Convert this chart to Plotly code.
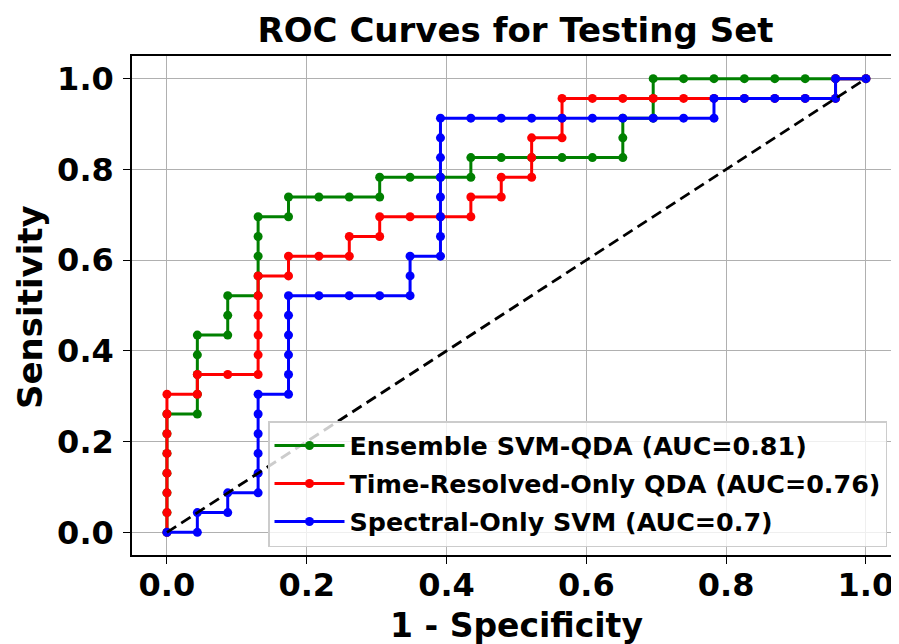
import plotly.graph_objects as go

N_NEG = 23
N_POS = 23

# Ensemble SVM-QDA: false-positive counts and true-positive counts at each threshold
ens_fp = [0,0,0,0,0,0,0,1,1,1,1,1,2,2,2,3,3,3,3,3,4,4,5,6,7,7,8,9,10,10,11,12,13,14,15,15,15,16,16,16,17,18,19,20,21,22,23]
ens_tp = [0,1,2,3,4,5,6,6,7,8,9,10,10,11,12,12,13,14,15,16,16,17,17,17,17,18,18,18,18,19,19,19,19,19,19,20,21,21,22,23,23,23,23,23,23,23,23]

# Time-Resolved-Only QDA
tr_fp = [0,0,0,0,0,0,0,0,1,1,2,3,3,3,3,3,3,4,4,5,6,6,7,7,8,9,10,10,11,11,12,12,12,13,13,13,14,15,16,17,18,19,20,21,22,22,23]
tr_tp = [0,1,2,3,4,5,6,7,7,8,8,8,9,10,11,12,13,13,14,14,14,15,15,16,16,16,16,17,17,18,18,19,20,20,21,22,22,22,22,22,22,22,22,22,22,23,23]

# Spectral-Only SVM
sp_fp = [0,1,1,2,2,3,3,3,3,3,3,4,4,4,4,4,4,5,6,7,8,8,8,9,9,9,9,9,9,9,9,10,11,12,13,14,15,16,17,18,18,19,20,21,22,22,23]
sp_tp = [0,0,1,1,2,2,3,4,5,6,7,7,8,9,10,11,12,12,12,12,12,13,14,14,15,16,17,18,19,20,21,21,21,21,21,21,21,21,21,21,22,22,22,22,22,23,23]

series = [
    ("Ensemble SVM-QDA (AUC=0.81)", ens_fp, ens_tp, "#008000"),
    ("Time-Resolved-Only QDA (AUC=0.76)", tr_fp, tr_tp, "#ff0000"),
    ("Spectral-Only SVM (AUC=0.7)", sp_fp, sp_tp, "#0000ff"),
]

diag = [0, 1]
ticks = [0.0, 0.2, 0.4, 0.6, 0.8, 1.0]
tick_text = ["0.0", "0.2", "0.4", "0.6", "0.8", "1.0"]
title_text = "ROC Curves for Testing Set"
x_title = "1 - Specificity"
y_title = "Sensitivity"

FONT = "DejaVu Sans"
W, H = 891, 636
ML, MR, MT, MB = 124, 0, 48, 89
PW, PH = W - ML - MR, H - MT - MB

fig = go.Figure()
for i, (name, fp, tp, col) in enumerate(series):
    fig.add_trace(go.Scatter(
        x=[v / N_NEG for v in fp], y=[v / N_POS for v in tp],
        mode="lines+markers", name=name, legendgroup=f"g{i}",
        line=dict(color=col, width=3),
        marker=dict(color=col, size=9),
    ))
fig.add_trace(go.Scatter(
    x=diag, y=diag, mode="lines", showlegend=False,
    line=dict(color="black", width=2.8, dash="11px,6px"),
))

axis_common = dict(
    tickvals=ticks, ticktext=tick_text,
    tickfont=dict(family=FONT, size=32, color="black", weight="bold"),
    showgrid=True, gridcolor="#b0b0b0", gridwidth=1.2,
    zeroline=False, showline=True, linecolor="black", linewidth=1.6,
    ticks="outside", ticklen=7, tickwidth=1.4, tickcolor="black",
    automargin=False,
)

fig.update_layout(
    width=W, height=H,
    margin=dict(l=ML, r=MR, t=MT, b=MB),
    paper_bgcolor="white", plot_bgcolor="white",
    title=dict(text=f"<b>{title_text}</b>", x=0.5, xref="paper",
               y=1 - 22 / H, yref="container", yanchor="middle",
               font=dict(family=FONT, size=34, color="black")),
    xaxis=dict(range=[-0.05, 1.0473], mirror=True, ticklabelstandoff=-6, **axis_common),
    yaxis=dict(range=[-0.05, 1.05], ticklabelstandoff=3, **axis_common),
    legend=dict(x=(268 - 8 - ML) / PW, y=(MT + PH - (421 - 8)) / PH, xanchor="left", yanchor="top",
                bgcolor="rgba(255,255,255,0.8)", bordercolor="#cccccc", borderwidth=1.5,
                font=dict(family=FONT, size=25.4, color="black", weight="bold"),
                itemwidth=70, tracegroupgap=2),
    showlegend=True,
    annotations=[
        dict(text=f"<b>{x_title}</b>", xref="paper", yref="paper",
             x=(516 - 8 - ML) / PW, y=(MT + PH - (625 - 8)) / PH,
             xanchor="center", yanchor="middle", showarrow=False,
             font=dict(family=FONT, size=33, color="black")),
        dict(text=f"<b>{y_title}</b>", xref="paper", yref="paper",
             x=(30 - 8 - ML) / PW, y=(MT + PH - (307 - 8)) / PH,
             xanchor="center", yanchor="middle", showarrow=False, textangle=-90,
             font=dict(family=FONT, size=34, color="black")),
    ],
)

fig.write_html("out.html")
